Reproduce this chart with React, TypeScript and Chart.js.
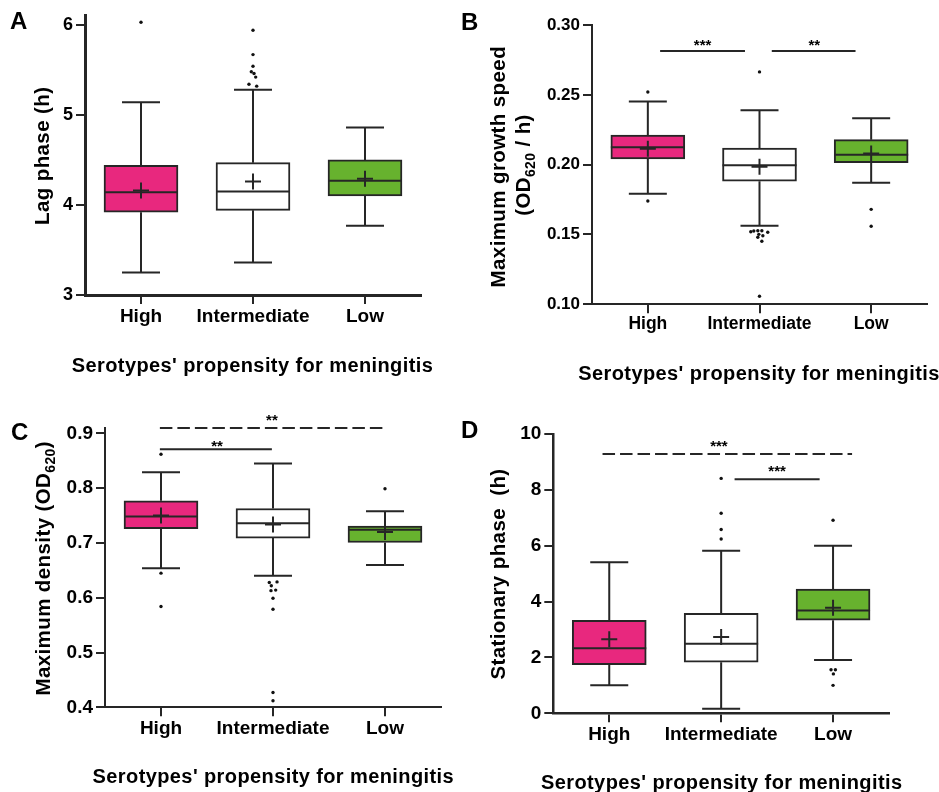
import React, { useEffect, useRef } from 'react';
import { Chart, registerables } from 'chart.js';

Chart.register(...registerables);

const FONT = '"Liberation Sans", Arial, Helvetica, sans-serif';
const INK = '#262626';

const categories = ['High', 'Intermediate', 'Low'];
const boxColors = ['#E8287E', '#FFFFFF', '#67B22E'];

// ---- Panel A: lag phase (h)
const lagWhiskerLow = [3.25, 3.36, 3.77];
const lagQ1 = [3.92, 3.94, 4.1];
const lagMedian = [4.14, 4.15, 4.27];
const lagQ3 = [4.44, 4.47, 4.5];
const lagWhiskerHigh = [5.14, 5.28, 4.86];
const lagMean = [4.16, 4.26, 4.29];
// [group, value, jitter]
const lagOutliers = [
  [0, 6.03, 0], [1, 5.94, 0], [1, 5.67, 0], [1, 5.54, 0], [1, 5.48, -0.015],
  [1, 5.46, 0.009], [1, 5.42, 0.024], [1, 5.34, -0.036], [1, 5.32, 0.033],
];
const lagTicks = [3, 4, 5, 6];
const lagSignificance: any[] = [];

// ---- Panel B: maximum growth speed (OD620 / h)
const speedWhiskerLow = [0.1792, 0.1563, 0.1871];
const speedQ1 = [0.2041, 0.1881, 0.2014];
const speedMedian = [0.2124, 0.1995, 0.2071];
const speedQ3 = [0.2212, 0.2119, 0.2179];
const speedWhiskerHigh = [0.2453, 0.2389, 0.2332];
const speedMean = [0.2114, 0.1985, 0.2079];
const speedOutliers = [
  [0, 0.252, 0], [0, 0.174, 0], [1, 0.2664, 0],
  [1, 0.152, -0.078], [1, 0.1525, -0.051], [1, 0.1527, -0.015], [1, 0.1527, 0.021],
  [1, 0.1516, 0.074], [1, 0.1501, -0.006], [1, 0.1491, 0.03], [1, 0.148, -0.015],
  [1, 0.1451, 0.021], [1, 0.1058, 0], [2, 0.168, 0], [2, 0.1559, 0],
];
const speedTicks = [0.1, 0.15, 0.2, 0.25, 0.3];
const speedSignificance = [
  { from: 0.11, to: 0.87, line: 0.2814, label: 0.2883, labelX: 0.49, stars: '***', dashed: false },
  { from: 1.11, to: 1.86, line: 0.2814, label: 0.2883, labelX: 1.49, stars: '**', dashed: false },
];

// ---- Panel C: maximum density (OD620)
const densityWhiskerLow = [0.654, 0.64, 0.66];
const densityQ1 = [0.726, 0.709, 0.701];
const densityMedian = [0.7485, 0.736, 0.724];
const densityQ3 = [0.777, 0.763, 0.731];
const densityWhiskerHigh = [0.829, 0.845, 0.758];
const densityMean = [0.75, 0.734, 0.72];
const densityOutliers = [
  [0, 0.862, 0], [0, 0.645, 0], [0, 0.584, 0],
  [1, 0.628, -0.033], [1, 0.629, 0.036], [1, 0.622, -0.015], [1, 0.614, 0.024],
  [1, 0.613, -0.018], [1, 0.599, 0], [1, 0.579, 0], [1, 0.427, 0], [1, 0.412, 0],
  [2, 0.799, 0],
];
const densityTicks = [0.4, 0.5, 0.6, 0.7, 0.8, 0.9];
const densitySignificance = [
  { from: -0.01, to: 1.98, line: 0.91, label: 0.9316, labelX: 0.99, stars: '**', dashed: true },
  { from: -0.01, to: 0.99, line: 0.871, label: 0.8847, labelX: 0.5, stars: '**', dashed: false },
];

// ---- Panel D: stationary phase (h)
const stationaryWhiskerLow = [1.0, 0.16, 1.91];
const stationaryQ1 = [1.74, 1.83, 3.33];
const stationaryMedian = [2.33, 2.49, 3.68];
const stationaryQ3 = [3.33, 3.58, 4.45];
const stationaryWhiskerHigh = [5.41, 5.82, 6.0];
const stationaryMean = [2.65, 2.73, 3.78];
const stationaryOutliers = [
  [1, 8.41, 0], [1, 7.16, 0], [1, 6.58, 0], [1, 6.24, 0],
  [2, 6.91, 0], [2, 1.56, -0.018], [2, 1.56, 0.021], [2, 1.41, 0.003], [2, 1.0, 0],
];
const stationaryTicks = [0, 2, 4, 6, 8, 10];
const stationarySignificance = [
  { from: -0.06, to: 2.17, line: 9.28, label: 9.7, labelX: 0.98, stars: '***', dashed: true },
  { from: 1.12, to: 1.88, line: 8.38, label: 8.81, labelX: 1.5, stars: '***', dashed: false },
];

const xTitle = "Serotypes' propensity for meningitis";

type Run = { t: string; sub?: boolean };

const panels = [
  {
    id: 'A', canvas: { left: 0, top: 0, width: 455, height: 390 },
    area: { left: 85, right: 421, top: 15, bottom: 295 },
    yMin: 3, yMax: 6.11, ticks: lagTicks, decimals: 0,
    low: lagWhiskerLow, q1: lagQ1, med: lagMedian, q3: lagQ3, high: lagWhiskerHigh, mean: lagMean,
    outliers: lagOutliers, sig: lagSignificance,
    axisWidth: 3, tickFont: 18, catFont: 19, catPad: 1,
    yTitle: [[{ t: 'Lag phase (h)' }]] as Run[][], yTitlePos: [{ x: 43.6, y: 155.8 }],
    xTitlePos: { x: 252.5, y: 371.7 }, letterPos: { x: 10, y: 29.3 },
  },
  {
    id: 'B', canvas: { left: 455, top: 0, width: 484, height: 390 },
    area: { left: 592, right: 927, top: 25, bottom: 304.3 },
    yMin: 0.1, yMax: 0.3, ticks: speedTicks, decimals: 2,
    low: speedWhiskerLow, q1: speedQ1, med: speedMedian, q3: speedQ3, high: speedWhiskerHigh, mean: speedMean,
    outliers: speedOutliers, sig: speedSignificance,
    axisWidth: 2, tickFont: 17, catFont: 17.5, catPad: 0,
    yTitle: [[{ t: 'Maximum growth speed' }], [{ t: '(OD' }, { t: '620', sub: true }, { t: ' / h)' }]] as Run[][],
    yTitlePos: [{ x: 499.3, y: 166.7 }, { x: 524.3, y: 165 }],
    xTitlePos: { x: 759, y: 380 }, letterPos: { x: 461, y: 30 },
  },
  {
    id: 'C', canvas: { left: 0, top: 390, width: 455, height: 402 },
    area: { left: 105, right: 441, top: 428, bottom: 707.3 },
    yMin: 0.4, yMax: 0.91, ticks: densityTicks, decimals: 1,
    low: densityWhiskerLow, q1: densityQ1, med: densityMedian, q3: densityQ3, high: densityWhiskerHigh, mean: densityMean,
    outliers: densityOutliers, sig: densitySignificance,
    axisWidth: 2, tickFont: 19, catFont: 19, catPad: 1,
    yTitle: [[{ t: 'Maximum density (OD' }, { t: '620', sub: true }, { t: ')' }]] as Run[][],
    yTitlePos: [{ x: 44.3, y: 568.3 }],
    xTitlePos: { x: 273.3, y: 783.3 }, letterPos: { x: 11, y: 440 },
  },
  {
    id: 'D', canvas: { left: 455, top: 390, width: 484, height: 402 },
    area: { left: 553.3, right: 889, top: 434, bottom: 713.3 },
    yMin: 0, yMax: 10, ticks: stationaryTicks, decimals: 0,
    low: stationaryWhiskerLow, q1: stationaryQ1, med: stationaryMedian, q3: stationaryQ3, high: stationaryWhiskerHigh, mean: stationaryMean,
    outliers: stationaryOutliers, sig: stationarySignificance,
    axisWidth: 2.5, tickFont: 19, catFont: 19, catPad: 1,
    yTitle: [[{ t: 'Stationary phase  (h)' }]] as Run[][], yTitlePos: [{ x: 499.3, y: 574 }],
    xTitlePos: { x: 721.7, y: 789 }, letterPos: { x: 461, y: 438 },
  },
];

const BOX_WIDTH = 74;
const CAP_HALF = 19;

function font(size: number) {
  return `bold ${size}px ${FONT}`;
}

function drawRuns(ctx: CanvasRenderingContext2D, runs: Run[], cx: number, cy: number, size: number, rotate: boolean, baseline: CanvasTextBaseline) {
  ctx.save();
  (ctx as any).letterSpacing = '0.4px';
  ctx.translate(cx, cy);
  if (rotate) ctx.rotate(-Math.PI / 2);
  ctx.fillStyle = '#000';
  ctx.textAlign = 'left';
  ctx.textBaseline = baseline;
  const widths = runs.map((r) => {
    ctx.font = font(r.sub ? size * 0.68 : size);
    return ctx.measureText(r.t).width;
  });
  const total = widths.reduce((a, b) => a + b, 0);
  let x = -total / 2;
  runs.forEach((r, i) => {
    ctx.font = font(r.sub ? size * 0.68 : size);
    ctx.fillText(r.t, x, r.sub ? size * 0.32 : 0);
    x += widths[i];
  });
  ctx.restore();
}

function makePlugin(p: any) {
  const ox = p.canvas.left;
  const oy = p.canvas.top;
  return {
    id: 'boxplot' + p.id,
    beforeDatasetsDraw(chart: any) {
      const { ctx, scales } = chart;
      const x = scales.x;
      const y = scales.y;
      ctx.save();
      ctx.strokeStyle = INK;
      ctx.lineWidth = 2;
      categories.forEach((_, i) => {
        const cx = x.getPixelForValue(i);
        const yHi = y.getPixelForValue(p.high[i]);
        const yLo = y.getPixelForValue(p.low[i]);
        ctx.beginPath();
        ctx.moveTo(cx, y.getPixelForValue(p.q3[i]));
        ctx.lineTo(cx, yHi);
        ctx.moveTo(cx - CAP_HALF, yHi);
        ctx.lineTo(cx + CAP_HALF, yHi);
        ctx.moveTo(cx, y.getPixelForValue(p.q1[i]));
        ctx.lineTo(cx, yLo);
        ctx.moveTo(cx - CAP_HALF, yLo);
        ctx.lineTo(cx + CAP_HALF, yLo);
        ctx.stroke();
      });
      ctx.restore();
    },
    afterDatasetDraw(chart: any, args: any) {
      if (args.index !== 0) return;
      const { ctx, scales } = chart;
      const x = scales.x;
      const y = scales.y;
      ctx.save();
      ctx.strokeStyle = INK;
      ctx.lineWidth = 2;
      categories.forEach((_, i) => {
        const cx = x.getPixelForValue(i);
        const ym = y.getPixelForValue(p.med[i]);
        ctx.beginPath();
        ctx.moveTo(cx - BOX_WIDTH / 2, ym);
        ctx.lineTo(cx + BOX_WIDTH / 2, ym);
        ctx.stroke();
      });
      ctx.restore();
    },
    afterDatasetsDraw(chart: any) {
      const { ctx, scales } = chart;
      const x = scales.x;
      const y = scales.y;
      ctx.save();
      p.sig.forEach((s: any) => {
        const yl = y.getPixelForValue(s.line);
        ctx.strokeStyle = INK;
        ctx.lineWidth = 2;
        ctx.setLineDash(s.dashed ? [12.5, 5] : []);
        ctx.beginPath();
        ctx.moveTo(x.getPixelForValue(s.from), yl);
        ctx.lineTo(x.getPixelForValue(s.to), yl);
        ctx.stroke();
        ctx.setLineDash([]);
        const fs = 15;
        ctx.font = font(fs);
        ctx.fillStyle = '#000';
        ctx.textAlign = 'center';
        ctx.textBaseline = 'alphabetic';
        ctx.fillText(s.stars, x.getPixelForValue(s.labelX), y.getPixelForValue(s.label) + fs * 0.58);
      });
      ctx.restore();
    },
    afterDraw(chart: any) {
      const { ctx } = chart;
      p.yTitle.forEach((runs: Run[], k: number) => {
        const pos = p.yTitlePos[k];
        drawRuns(ctx, runs, pos.x - ox, pos.y - oy, 20.5, true, 'middle');
      });
      drawRuns(ctx, [{ t: xTitle }], p.xTitlePos.x - ox, p.xTitlePos.y - oy, 20, false, 'alphabetic');
      ctx.save();
      ctx.font = font(24);
      ctx.fillStyle = '#000';
      ctx.textAlign = 'left';
      ctx.textBaseline = 'alphabetic';
      ctx.fillText(p.id, p.letterPos.x - ox, p.letterPos.y - oy);
      ctx.restore();
    },
  };
}

function Panel({ p }: { p: any }) {
  const ref = useRef<HTMLCanvasElement | null>(null);
  useEffect(() => {
    const canvas = ref.current;
    if (!canvas) return;
    const W = p.canvas.width;
    const H = p.canvas.height;
    const aLeft = p.area.left - p.canvas.left;
    const aRight = p.area.right - p.canvas.left;
    const aTop = p.area.top - p.canvas.top;
    const aBottom = p.area.bottom - p.canvas.top;
    const gridOpts = {
      display: true, drawOnChartArea: false, drawTicks: true, tickLength: 9,
      lineWidth: 2, color: INK, offset: false,
    };
    const chart = new Chart(canvas, {
      type: 'bar',
      data: {
        datasets: [
          {
            type: 'bar',
            order: 3,
            data: categories.map((_, i) => ({ x: i, y: [p.q1[i], p.q3[i]] })),
            backgroundColor: boxColors,
            borderColor: INK,
            borderWidth: 2,
            borderSkipped: false,
            barThickness: BOX_WIDTH,
          } as any,
          {
            type: 'scatter',
            order: 2,
            data: p.outliers.map((o: number[]) => ({ x: o[0] + o[2], y: o[1] })),
            pointRadius: 1.7,
            pointBackgroundColor: '#111',
            pointBorderWidth: 0,
          } as any,
          {
            type: 'scatter',
            order: 1,
            data: p.mean.map((m: number, i: number) => ({ x: i, y: m })),
            pointStyle: 'cross',
            pointRadius: 8,
            pointBorderColor: INK,
            pointBorderWidth: 2,
          } as any,
        ],
      },
      options: {
        responsive: false,
        maintainAspectRatio: false,
        animation: false,
        events: [],
        layout: { padding: { left: 0, top: aTop, right: W - aRight, bottom: 0 } },
        plugins: { legend: { display: false }, tooltip: { enabled: false } },
        scales: {
          x: {
            type: 'linear',
            min: -0.5,
            max: 2.5,
            offset: false,
            afterBuildTicks: (s: any) => { s.ticks = [0, 1, 2].map((v) => ({ value: v })); },
            afterFit: (s: any) => { s.height = H - aBottom; s.paddingLeft = 0; s.paddingRight = 0; },
            ticks: {
              autoSkip: false, maxRotation: 0, padding: p.catPad, color: '#000',
              font: { family: FONT, weight: 'bold', size: p.catFont },
              callback: (v: any) => categories[Math.round(Number(v))],
            },
            grid: gridOpts,
            border: { display: true, width: p.axisWidth, color: INK },
          },
          y: {
            type: 'linear',
            min: p.yMin,
            max: p.yMax,
            afterBuildTicks: (s: any) => { s.ticks = p.ticks.map((v: number) => ({ value: v })); },
            afterFit: (s: any) => { s.width = aLeft; s.paddingTop = 0; s.paddingBottom = 0; },
            ticks: {
              padding: 3, color: '#000',
              font: { family: FONT, weight: 'bold', size: p.tickFont },
              callback: (v: any) => Number(v).toFixed(p.decimals),
            },
            grid: gridOpts,
            border: { display: true, width: p.axisWidth, color: INK },
          },
        },
      } as any,
      plugins: [makePlugin(p)],
    });
    return () => chart.destroy();
  }, [p]);
  return (
    <canvas
      ref={ref}
      width={p.canvas.width}
      height={p.canvas.height}
      style={{
        position: 'absolute', left: p.canvas.left, top: p.canvas.top,
        width: p.canvas.width, height: p.canvas.height,
      }}
    />
  );
}

export default function App() {
  return (
    <div style={{ position: 'absolute', left: 0, top: 0, width: 939, height: 792, background: '#fff', overflow: 'hidden' }}>
      {panels.map((p) => (
        <Panel key={p.id} p={p} />
      ))}
    </div>
  );
}
